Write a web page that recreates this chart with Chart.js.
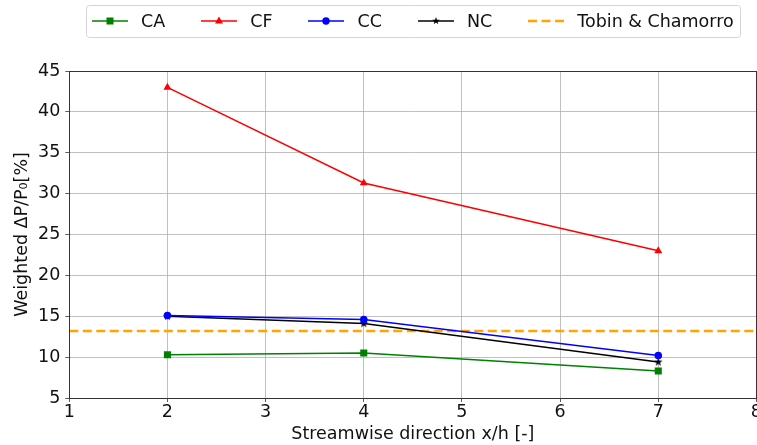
<!DOCTYPE html>
<html>
<head>
<meta charset="utf-8">
<script src="https://cdn.jsdelivr.net/npm/chart.js@4.4.1/dist/chart.umd.min.js"></script>
<style>
    html, body { margin: 0; padding: 0; background: #fff; overflow: hidden; }
</style>
</head>
<body>
<canvas id="chart" width="762" height="445"></canvas>
<script>
// streamwise stations and weighted pressure drop per configuration
const positions = [2, 4, 7];
const caValues = [10.3, 10.5, 8.3];
const cfValues = [43.0, 31.3, 23.0];
const ccValues = [15.1, 14.6, 10.2];
const ncValues = [15.0, 14.1, 9.4];
const tobinLevel = 13.2;
const xRange = [1, 8];
const yRange = [5, 45];

const FONT = "'DejaVu Sans', sans-serif";
const FONT_SIZE = 17.5;
const TEXT = '#111';

function toPoints(values) {
    return positions.map((x, i) => ({ x: x, y: values[i] }));
}

// small filled star, used for the NC markers
function starImage(radius, color) {
    const size = Math.ceil(radius * 2) + 2;
    const c = document.createElement('canvas');
    c.width = size;
    c.height = size;
    const g = c.getContext('2d');
    g.fillStyle = color;
    g.beginPath();
    for (let i = 0; i < 10; i++) {
        const r = i % 2 === 0 ? radius : radius * 0.4;
        const a = -Math.PI / 2 + i * Math.PI / 5;
        const px = size / 2 + r * Math.cos(a);
        const py = size / 2 + r * Math.sin(a);
        if (i === 0) g.moveTo(px, py); else g.lineTo(px, py);
    }
    g.closePath();
    g.fill();
    return c;
}

// legend icon: short line with the series marker in the middle
function legendIcon(color, marker, dashed) {
    const w = 36, h = 14;
    const c = document.createElement('canvas');
    c.width = w;
    c.height = h;
    const g = c.getContext('2d');
    g.strokeStyle = color;
    g.fillStyle = color;
    g.lineWidth = dashed ? 2.5 : 1.5;
    if (dashed) g.setLineDash([9, 4.5]);
    g.beginPath();
    g.moveTo(0, h / 2);
    g.lineTo(w, h / 2);
    g.stroke();
    g.setLineDash([]);
    const cx = w / 2, cy = h / 2;
    if (marker === 'rect') {
        g.fillRect(cx - 3.5, cy - 3.5, 7, 7);
    } else if (marker === 'triangle') {
        g.beginPath();
        g.moveTo(cx, cy - 4.5);
        g.lineTo(cx + 4, cy + 2.5);
        g.lineTo(cx - 4, cy + 2.5);
        g.closePath();
        g.fill();
    } else if (marker === 'circle') {
        g.beginPath();
        g.arc(cx, cy, 3.7, 0, Math.PI * 2);
        g.fill();
    } else if (marker === 'star') {
        const s = starImage(4, color);
        g.drawImage(s, cx - s.width / 2, cy - s.height / 2);
    }
    return c;
}

const series = [
    { label: 'CA', values: caValues, color: 'green', marker: 'rect', pointStyle: 'rect', radius: 5 },
    { label: 'CF', values: cfValues, color: 'red', marker: 'triangle', pointStyle: 'triangle', radius: 4.6 },
    { label: 'CC', values: ccValues, color: 'blue', marker: 'circle', pointStyle: 'circle', radius: 3.8 },
    { label: 'NC', values: ncValues, color: 'black', marker: 'star', pointStyle: starImage(4.5, 'black'), radius: 4 }
];

const datasets = series.map(s => ({
    label: s.label,
    data: toPoints(s.values),
    borderColor: s.color,
    backgroundColor: s.color,
    borderWidth: 1.5,
    pointStyle: s.pointStyle,
    pointRadius: s.radius,
    pointBorderWidth: 0,
    pointHoverRadius: s.radius,
    tension: 0,
    legendIcon: legendIcon(s.color, s.marker, false)
}));

datasets.push({
    label: 'Tobin & Chamorro',
    data: [{ x: xRange[0], y: tobinLevel }, { x: xRange[1], y: tobinLevel }],
    borderColor: 'orange',
    backgroundColor: 'orange',
    borderWidth: 2.5,
    borderDash: [9, 4.5],
    pointRadius: 0,
    legendIcon: legendIcon('orange', null, true)
});

// one-row legend centred over the plot, in a rounded light frame
const legendRow = {
    id: 'legendRow',
    afterDraw(chart) {
        const ctx = chart.ctx;
        const area = chart.chartArea;
        const iconW = 36, textGap = 13, itemGap = 36, inner = 6;
        const cy = 21;
        ctx.save();
        ctx.font = FONT_SIZE + 'px ' + FONT;
        const items = chart.data.datasets.map(ds => ({
            icon: ds.legendIcon,
            text: ds.label,
            w: ctx.measureText(ds.label).width
        }));
        const total = items.reduce((sum, it) => sum + iconW + textGap + it.w, 0) +
            itemGap * (items.length - 1);
        let x = (area.left + area.right) / 2 - total / 2;

        ctx.strokeStyle = '#d4d4d4';
        ctx.lineWidth = 1;
        ctx.beginPath();
        ctx.roundRect(Math.round(x - inner) + 0.5, 5.5, Math.round(total + 2 * inner), 32, 3);
        ctx.stroke();

        ctx.fillStyle = TEXT;
        ctx.textBaseline = 'middle';
        ctx.textAlign = 'left';
        items.forEach(it => {
            ctx.drawImage(it.icon, Math.round(x), Math.round(cy - it.icon.height / 2));
            x += iconW + textGap;
            ctx.fillText(it.text, x, cy + 1);
            x += it.w + itemGap;
        });
        ctx.restore();
    }
};

// full box round the axes
const axesFrame = {
    id: 'axesFrame',
    afterDraw(chart) {
        const ctx = chart.ctx;
        const a = chart.chartArea;
        ctx.save();
        ctx.strokeStyle = '#333';
        ctx.lineWidth = 1;
        ctx.strokeRect(Math.round(a.left) + 0.5, Math.round(a.top) + 0.5,
            Math.round(a.right - a.left), Math.round(a.bottom - a.top));
        ctx.restore();
    }
};

new Chart(document.getElementById('chart'), {
    type: 'line',
    data: { datasets: datasets },
    plugins: [legendRow, axesFrame],
    options: {
        responsive: false,
        animation: false,
        layout: { padding: { left: 4, right: 0, top: 71, bottom: 0 } },
        plugins: {
            tooltip: { enabled: false },
            legend: { display: false }
        },
        scales: {
            x: {
                type: 'linear',
                min: xRange[0],
                max: xRange[1],
                ticks: { stepSize: 1, color: TEXT, font: { family: FONT, size: FONT_SIZE }, padding: 0, maxRotation: 0 },
                grid: { color: '#b0b0b0', lineWidth: 0.8, tickColor: '#333', tickLength: 4 },
                border: { color: '#333' },
                title: { display: true, text: 'Streamwise direction x/h [-]', color: TEXT,
                    font: { family: FONT, size: FONT_SIZE }, padding: { top: 1, bottom: 0 } }
            },
            y: {
                min: yRange[0],
                max: yRange[1],
                ticks: { stepSize: 5, color: TEXT, font: { family: FONT, size: FONT_SIZE }, padding: 5 },
                grid: { color: '#b0b0b0', lineWidth: 0.8, tickColor: '#333', tickLength: 4 },
                border: { color: '#333' },
                title: { display: true, text: 'Weighted ΔP/P₀[%]', color: TEXT,
                    font: { family: FONT, size: FONT_SIZE }, padding: { top: 8, bottom: 0 } }
            }
        }
    }
});
</script>
</body>
</html>
